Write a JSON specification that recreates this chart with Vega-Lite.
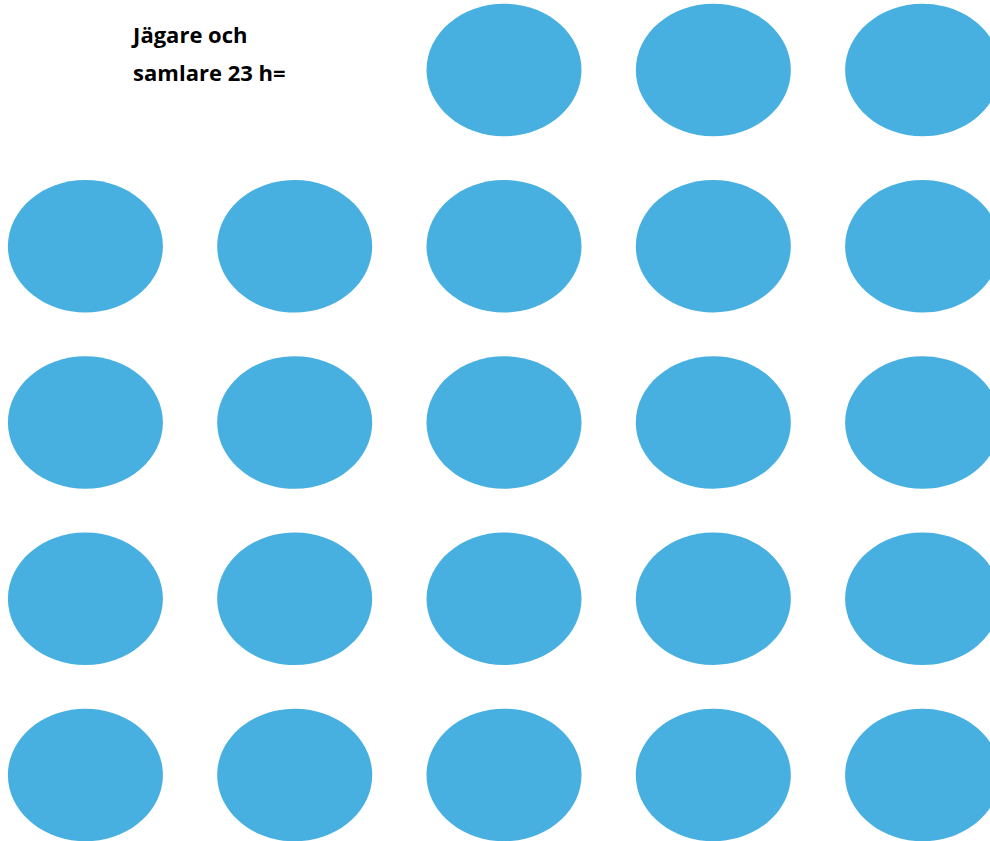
{
  "$schema": "https://vega.github.io/schema/vega-lite/v6.json",
  "autosize": {"type": "fit", "contains": "padding"},
  "width": 990,
  "height": 841,
  "padding": 0,
  "background": "white",
  "config": {"view": {"stroke": null}},
  "datasets": {
    "dots": [
      {"row": 1, "col": 3}, {"row": 1, "col": 4}, {"row": 1, "col": 5},
      {"row": 2, "col": 1}, {"row": 2, "col": 2}, {"row": 2, "col": 3}, {"row": 2, "col": 4}, {"row": 2, "col": 5},
      {"row": 3, "col": 1}, {"row": 3, "col": 2}, {"row": 3, "col": 3}, {"row": 3, "col": 4}, {"row": 3, "col": 5},
      {"row": 4, "col": 1}, {"row": 4, "col": 2}, {"row": 4, "col": 3}, {"row": 4, "col": 4}, {"row": 4, "col": 5},
      {"row": 5, "col": 1}, {"row": 5, "col": 2}, {"row": 5, "col": 3}, {"row": 5, "col": 4}, {"row": 5, "col": 5}
    ],
    "label": [
      {"row": 0.805, "col": 1.228, "text": "Jägare och"},
      {"row": 1.025, "col": 1.228, "text": "samlare 23 h="}
    ]
  },
  "layer": [
    {
      "data": {"name": "dots"},
      "mark": {
        "type": "point",
        "shape": "M -1 0 A 1 0.855 0 1 0 1 0 A 1 0.855 0 1 0 -1 0 Z",
        "size": 24025,
        "filled": true,
        "opacity": 1,
        "color": "#47B0E0",
        "strokeWidth": 0,
        "clip": true
      },
      "encoding": {
        "x": {"field": "col", "type": "quantitative", "scale": {"domain": [0.592, 5.322], "nice": false, "zero": false}, "axis": null},
        "y": {"field": "row", "type": "quantitative", "scale": {"domain": [0.6028, 5.3745], "nice": false, "zero": false, "reverse": true}, "axis": null}
      }
    },
    {
      "data": {"name": "label"},
      "mark": {
        "type": "text",
        "align": "left",
        "baseline": "middle",
        "font": "Open Sans",
        "fontWeight": "bold",
        "fontSize": 22,
        "color": "black",
        "clip": true
      },
      "encoding": {
        "x": {"field": "col", "type": "quantitative", "scale": {"domain": [0.592, 5.322], "nice": false, "zero": false}, "axis": null},
        "y": {"field": "row", "type": "quantitative", "scale": {"domain": [0.6028, 5.3745], "nice": false, "zero": false, "reverse": true}, "axis": null},
        "text": {"field": "text"}
      }
    }
  ]
}
